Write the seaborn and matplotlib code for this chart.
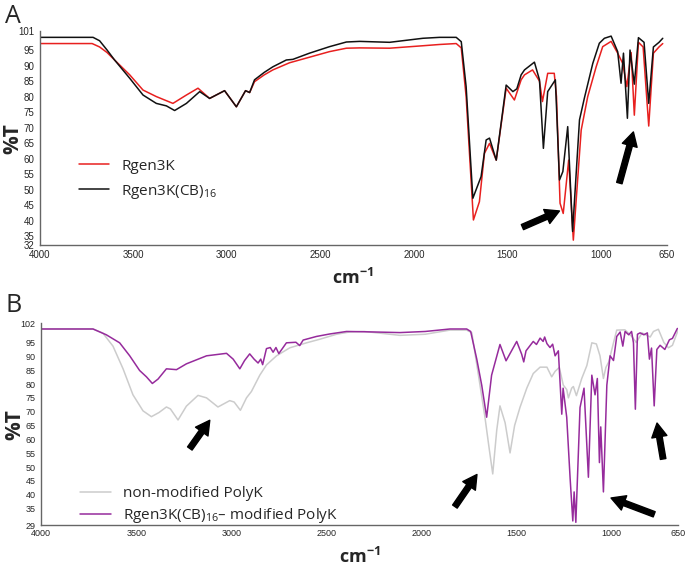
import matplotlib
matplotlib.use("Agg")
import matplotlib.pyplot as plt
import seaborn as sns

# panel A: Rgen3K (red)
wn_rgen = [4000, 3720, 3680, 3640, 3600, 3519, 3448, 3377, 3288, 3216, 3154, 3092, 3012, 2949,
           2900, 2878, 2852, 2800, 2754, 2665, 2558, 2451, 2361, 2290, 2130, 1950, 1863, 1774,
           1747, 1721, 1682, 1650, 1623, 1596, 1560, 1507, 1463, 1427, 1409, 1366, 1329, 1313,
           1285, 1250, 1238, 1219, 1202, 1173, 1148, 1106, 1071, 1026, 991, 946, 911, 884, 862,
           839, 822, 800, 775, 745, 720, 690, 670]
t_rgen = [97.1, 97.1, 96.0, 94.2, 91.8, 87.0, 82.1, 80.0, 77.8, 80.5, 82.7, 79.4, 81.9, 76.7,
          81.9, 81.3, 84.8, 87.0, 88.6, 90.9, 92.7, 94.5, 95.6, 95.7, 95.6, 96.4, 96.8, 97.1,
          95.7, 80.0, 40.2, 46.1, 61.7, 64.9, 59.5, 82.7, 78.9, 85.4, 87.0, 88.6, 85.0, 78.4,
          87.5, 87.5, 80.0, 45.6, 42.3, 59.5, 33.7, 69.2, 80.0, 89.6, 96.1, 97.8, 94.0, 90.7,
          83.2, 94.2, 74.0, 97.5, 96.0, 70.5, 94.0, 96.0, 97.1]

# panel A: Rgen3K(CB)16 (black)
wn_cb = [4000, 3715, 3680, 3640, 3600, 3519, 3448, 3377, 3323, 3279, 3216, 3145, 3092, 3012,
         2949, 2900, 2878, 2852, 2800, 2754, 2682, 2647, 2558, 2451, 2361, 2290, 2130, 1952,
         1863, 1774, 1747, 1721, 1685, 1641, 1614, 1596, 1560, 1507, 1471, 1450, 1427, 1409,
         1356, 1329, 1308, 1285, 1244, 1222, 1204, 1178, 1152, 1115, 1089, 1044, 1009, 982,
         946, 911, 893, 880, 859, 845, 822, 800, 770, 745, 720, 690, 670]
t_cb = [99.1, 99.1, 98.0, 95.0, 91.8, 85.9, 80.5, 77.8, 77.0, 75.5, 77.8, 81.6, 79.4, 81.9,
        76.7, 81.9, 81.3, 85.4, 87.8, 89.6, 91.8, 92.0, 94.0, 96.1, 97.6, 97.8, 97.5, 98.8,
        99.1, 99.1, 97.7, 83.2, 47.2, 54.2, 66.0, 66.6, 59.5, 83.7, 81.6, 82.5, 87.0, 88.6,
        91.1, 85.4, 63.3, 81.6, 85.4, 53.1, 55.8, 70.3, 36.5, 72.5, 79.5, 90.7, 97.2, 98.8,
        99.5, 94.5, 84.3, 94.0, 73.0, 95.0, 84.0, 99.0, 97.5, 77.8, 96.0, 97.5, 98.8]

# panel B: non-modified PolyK (grey)
wn_poly = [4000, 3727, 3675, 3622, 3569, 3517, 3464, 3420, 3380, 3341, 3320, 3280, 3236, 3175,
           3130, 3070, 3008, 2985, 2952, 2920, 2894, 2850, 2815, 2762, 2692, 2604, 2534, 2446,
           2380, 2300, 2113, 1980, 1850, 1762, 1735, 1692, 1666, 1643, 1625, 1604, 1587, 1560,
           1534, 1510, 1482, 1446, 1412, 1376, 1340, 1315, 1297, 1275, 1254, 1236, 1227, 1210,
           1201, 1185, 1157, 1130, 1104, 1080, 1061, 1043, 1030, 1015, 990, 973, 930, 894, 870,
           840, 797, 780, 754, 725, 701, 680, 650]
t_poly = [99.9, 99.9, 98.4, 93.7, 85.5, 76.1, 70.3, 68.2, 69.7, 71.7, 71.0, 67.0, 72.0, 75.9,
          75.0, 71.7, 74.0, 73.5, 70.5, 75.0, 77.3, 83.2, 86.9, 90.2, 93.1, 94.9, 96.2, 98.0,
          98.8, 99.0, 97.6, 98.0, 99.5, 99.5, 98.5, 79.6, 68.0, 56.3, 47.5, 63.3, 72.1, 66.0,
          55.1, 65.0, 71.5, 78.5, 83.8, 86.1, 86.1, 82.6, 84.6, 86.0, 79.6, 78.0, 75.0, 78.5,
          79.1, 75.8, 82.0, 86.7, 94.9, 94.5, 90.2, 82.0, 86.0, 88.0, 94.9, 99.5, 99.6, 97.2,
          95.0, 98.5, 97.0, 99.0, 99.8, 95.0, 93.1, 94.0, 99.5]

# panel B: Rgen3K(CB)16 - modified PolyK (purple)
wn_mod = [4000, 3727, 3657, 3587, 3534, 3482, 3446, 3415, 3385, 3341, 3288, 3236, 3130, 3025,
          2990, 2955, 2930, 2903, 2880, 2859, 2845, 2835, 2815, 2795, 2780, 2765, 2750, 2710,
          2660, 2640, 2622, 2552, 2482, 2394, 2300, 2113, 1980, 1850, 1762, 1741, 1709, 1683,
          1657, 1631, 1587, 1555, 1499, 1473, 1462, 1450, 1412, 1395, 1376, 1360, 1352, 1340,
          1324, 1310, 1297, 1280, 1262, 1255, 1236, 1218, 1204, 1197, 1188, 1166, 1145, 1122,
          1104, 1087, 1075, 1064, 1057, 1043, 1025, 1008, 990, 973, 955, 941, 929, 910, 895,
          885, 875, 864, 850, 830, 812, 801, 790, 776, 762, 745, 720, 696, 680, 654]
t_mod = [99.9, 99.9, 97.8, 94.9, 90.2, 84.9, 82.6, 80.2, 81.8, 85.5, 85.2, 87.3, 90.2, 91.1,
         89.0, 85.5, 88.5, 90.9, 89.0, 87.6, 89.0, 87.0, 92.8, 93.2, 91.5, 93.2, 91.0, 94.9,
         95.1, 93.9, 95.9, 97.2, 98.1, 99.0, 98.9, 98.6, 99.0, 99.9, 99.9, 99.0, 89.0, 79.6,
         68.0, 83.2, 94.3, 88.4, 95.4, 90.8, 88.0, 92.0, 95.4, 94.3, 96.6, 95.4, 97.0, 94.6,
         93.2, 94.4, 90.2, 92.0, 69.1, 78.5, 68.0, 45.8, 30.5, 41.0, 30.0, 71.5, 78.5, 46.3,
         83.2, 76.1, 82.0, 51.6, 64.5, 41.0, 79.6, 90.2, 88.5, 97.2, 98.8, 93.7, 99.0, 97.8,
         99.0, 94.9, 70.9, 98.0, 98.5, 97.8, 98.5, 89.0, 93.0, 72.1, 92.5, 94.0, 92.5, 96.0,
         96.5, 100.1]

xticks = [4000, 3500, 3000, 2500, 2000, 1500, 1000, 650]
yticks_a = [101, 95, 90, 85, 80, 75, 70, 65, 60, 55, 50, 45, 40, 35, 32]
yticks_b = [102, 95, 90, 85, 80, 75, 70, 65, 60, 55, 50, 45, 40, 35, 29]

sns.set_style("white")
plt.rcParams['font.family'] = ['Open Sans', 'DejaVu Sans']
plt.rcParams['mathtext.default'] = 'regular'

fig = plt.figure(figsize=(6.85, 5.72), dpi=100)
ax1 = fig.add_axes([0.058, 0.571, 0.915, 0.374])
ax2 = fig.add_axes([0.060, 0.082, 0.930, 0.353])

sns.lineplot(x=wn_rgen, y=t_rgen, sort=False, estimator=None, ax=ax1, color='#e8201f',
             lw=1.1, label='Rgen3K')
sns.lineplot(x=wn_cb, y=t_cb, sort=False, estimator=None, ax=ax1, color='#111111',
             lw=1.1, label='Rgen3K(CB)$_{16}$')
sns.lineplot(x=wn_poly, y=t_poly, sort=False, estimator=None, ax=ax2, color='#cccccc',
             lw=1.1, label='non-modified PolyK')
sns.lineplot(x=wn_mod, y=t_mod, sort=False, estimator=None, ax=ax2, color='#962b9c',
             lw=1.1, label='Rgen3K(CB)$_{16}$– modified PolyK')

tickfont = ['Liberation Sans Narrow', 'Liberation Sans', 'DejaVu Sans']
for ax, yt, ylim, fs, lx in [(ax1, yticks_a, (32, 101), 7, -0.026),
                             (ax2, yticks_b, (29, 102), 6.5, -0.024)]:
    ax.set_xlim(4000, 650)
    ax.set_ylim(*ylim)
    ax.set_xticks(xticks)
    ax.set_yticks(yt)
    ax.set_xticklabels([str(t) for t in xticks], family=tickfont, fontsize=fs)
    ax.set_yticklabels([str(t) for t in yt], family=tickfont, fontsize=fs)
    ax.tick_params(axis='x', direction='inout', length=4, width=0.8, pad=1, color='#555555')
    ax.tick_params(axis='y', direction='out', length=3, width=0.8, pad=1, color='#555555')
    sns.despine(ax=ax)
    for s in ['left', 'bottom']:
        ax.spines[s].set_color('#666666')
        ax.spines[s].set_linewidth(1.0)
    ax.set_ylabel('%T', fontsize=15, fontweight='bold')
    ax.yaxis.set_label_coords(lx, 0.5)
    ax.set_xlabel('cm$^{-1}$', fontsize=13, fontweight='bold', labelpad=6)

ax1.legend(loc='upper left', bbox_to_anchor=(0.04, 0.47), frameon=False, fontsize=11,
           handlelength=2.0, labelspacing=0.6)
ax2.legend(loc='upper left', bbox_to_anchor=(0.04, 0.26), frameon=False, fontsize=11,
           handlelength=2.0, labelspacing=0.3)

arrow = dict(facecolor='black', edgecolor='black', width=4, headwidth=11, headlength=10)
ax1.annotate('', xy=(1222, 43.1), xytext=(1420, 37.9), arrowprops=arrow)
ax1.annotate('', xy=(827, 68.6), xytext=(902, 52.1), arrowprops=arrow)
ax2.annotate('', xy=(3113, 66.9), xytext=(3218, 56.7), arrowprops=arrow)
ax2.annotate('', xy=(1708, 47.3), xytext=(1824, 35.7), arrowprops=arrow)
ax2.annotate('', xy=(1003, 38.8), xytext=(776, 32.9), arrowprops=arrow)
ax2.annotate('', xy=(761, 65.9), xytext=(729, 52.9), arrowprops=arrow)

fig.text(0.008, 0.972, 'A', fontsize=18, va='center')
fig.text(0.008, 0.466, 'B', fontsize=18, va='center')

fig.savefig('out.png', dpi=100)
